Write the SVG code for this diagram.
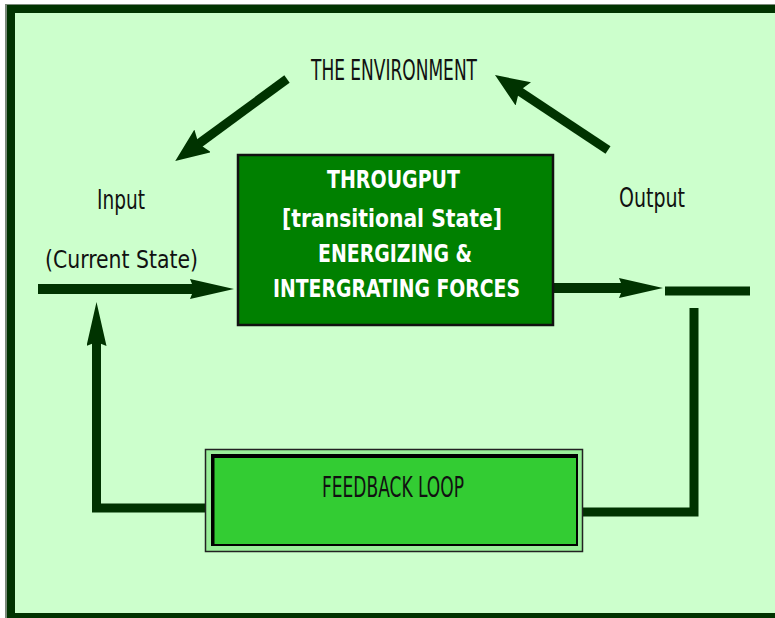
<svg xmlns="http://www.w3.org/2000/svg" width="775" height="618" viewBox="0 0 775 618">
  <style>
    .lbl { font-family: "Liberation Sans Narrow", "DejaVu Sans Condensed", "Liberation Sans", sans-serif; fill: #111; }
    .wht { font-family: "Liberation Sans Narrow", "DejaVu Sans Condensed", "Liberation Sans", sans-serif; font-weight: bold; fill: #ffffff; }
    .conn { fill: none; stroke: #003300; stroke-linecap: butt; stroke-linejoin: miter; }
  </style>
  <defs>
    <marker id="headH" viewBox="0 0 44 20" refX="6" refY="10" markerWidth="44" markerHeight="20" markerUnits="userSpaceOnUse" orient="auto">
      <path d="M0,0 L44,10 L0,20 L4,10 z" fill="#003300"/>
    </marker>
    <marker id="headE" viewBox="0 0 34 28" refX="7" refY="14" markerWidth="34" markerHeight="28" markerUnits="userSpaceOnUse" orient="auto">
      <path d="M0,0 L34,14 L0,28 L5,14 z" fill="#003300"/>
    </marker>
  </defs>

  <rect width="775" height="618" fill="#ffffff"/>
  <g id="frame">
    <rect x="6" y="5" width="810" height="620" fill="none" stroke="#7a8a7a" stroke-width="2"/>
    <rect x="11" y="9" width="800" height="608" fill="#ccffcc" stroke="#003300" stroke-width="8"/>
  </g>

  <g id="connectors">
    <line class="conn" x1="287" y1="79" x2="197" y2="145" stroke-width="9" marker-end="url(#headE)"/>
    <line class="conn" x1="608" y1="150" x2="517.5" y2="90" stroke-width="9" marker-end="url(#headE)"/>
    <line class="conn" x1="38" y1="289" x2="196" y2="289" stroke-width="10" marker-end="url(#headH)"/>
    <line class="conn" x1="553" y1="288" x2="625" y2="288" stroke-width="10" marker-end="url(#headH)"/>
    <line class="conn" x1="665" y1="291" x2="750" y2="291" stroke-width="9"/>
    <polyline class="conn" points="207,508 96.5,508 96.5,340" stroke-width="9" marker-end="url(#headH)"/>
    <polyline class="conn" points="581,512 694,512 694,308" stroke-width="9"/>
  </g>

  <g id="environment">
    <text class="lbl" x="394" y="80" font-size="28" text-anchor="middle" textLength="166" lengthAdjust="spacingAndGlyphs">THE ENVIRONMENT</text>
  </g>

  <g id="input">
    <text class="lbl" x="121" y="209" font-size="26" text-anchor="middle" textLength="48" lengthAdjust="spacingAndGlyphs">Input</text>
    <text class="lbl" x="121.5" y="268" font-size="24" text-anchor="middle" textLength="153" lengthAdjust="spacingAndGlyphs">(Current State)</text>
  </g>

  <g id="output">
    <text class="lbl" x="652" y="207" font-size="26" text-anchor="middle" textLength="66" lengthAdjust="spacingAndGlyphs">Output</text>
  </g>

  <g id="throughput">
    <rect x="238" y="155" width="315" height="170" fill="#008000" stroke="#111" stroke-width="2.5"/>
    <text class="wht" x="393.5" y="188" font-size="24" text-anchor="middle" textLength="133" lengthAdjust="spacingAndGlyphs">THROUGPUT</text>
    <text class="wht" x="392" y="227" font-size="24" text-anchor="middle" textLength="220" lengthAdjust="spacingAndGlyphs">[transitional State]</text>
    <text class="wht" x="395" y="262" font-size="24" text-anchor="middle" textLength="154" lengthAdjust="spacingAndGlyphs">ENERGIZING &amp;</text>
    <text class="wht" x="396.5" y="297" font-size="24" text-anchor="middle" textLength="247" lengthAdjust="spacingAndGlyphs">INTERGRATING FORCES</text>
  </g>

  <g id="feedback">
    <rect x="205.5" y="449.5" width="377" height="102" fill="#99ee99" stroke="#222" stroke-width="1.5"/>
    <rect x="212" y="455" width="365" height="90" fill="#33cc33" stroke="#000" stroke-width="2"/>
    <line x1="212" y1="456" x2="577" y2="456" stroke="#000" stroke-width="4"/>
    <line x1="213" y1="455" x2="213" y2="545" stroke="#000" stroke-width="3"/>
    <text class="lbl" x="393" y="497" font-size="28" text-anchor="middle" textLength="142" lengthAdjust="spacingAndGlyphs">FEEDBACK LOOP</text>
  </g>
</svg>
